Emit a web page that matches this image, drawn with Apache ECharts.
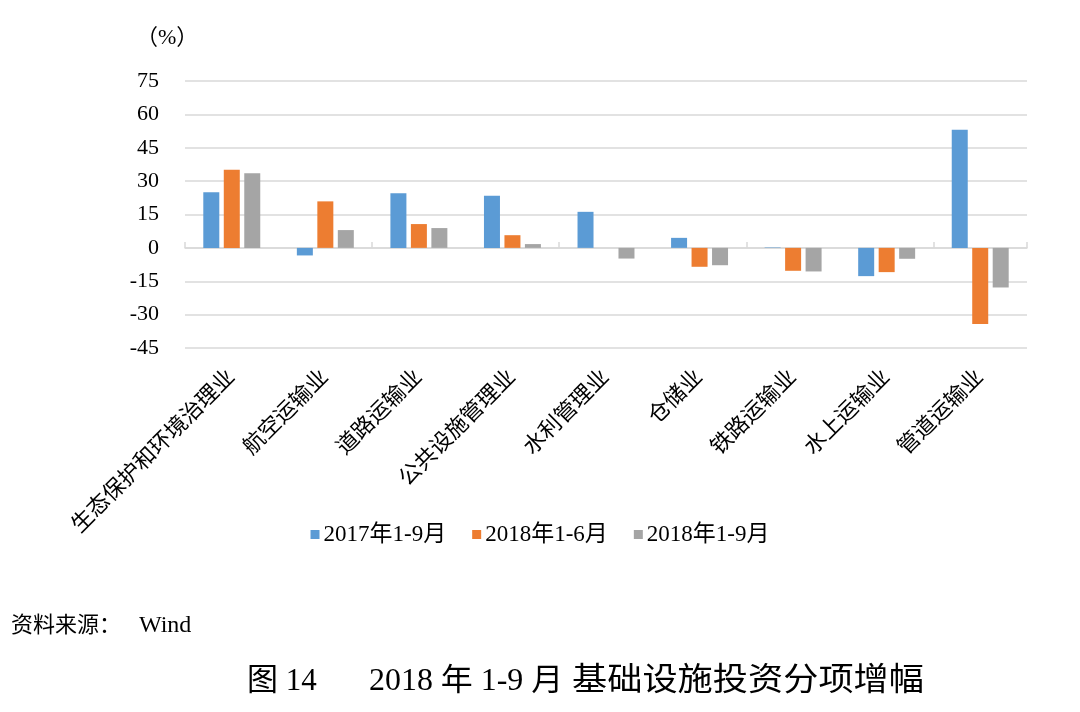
<!DOCTYPE html>
<html>
<head>
<meta charset="utf-8">
<script src="https://cdn.jsdelivr.net/npm/echarts@6/dist/echarts.min.js"></script>
<style>
html,body{margin:0;padding:0;background:#fff;}
#chart{width:1080px;height:712px;}
</style>
</head>
<body>
<div id="chart"></div>
<script>
var categories = ['生态保护和环境治理业','航空运输业','道路运输业','公共设施管理业','水利管理业','仓储业','铁路运输业','水上运输业','管道运输业'];
var s2017_1_9 = [25.0, -3.4, 24.6, 23.4, 16.2, 4.5, 0.2, -12.7, 53.1];
var s2018_1_6 = [35.1, 20.9, 10.7, 5.7, 0, -8.5, -10.3, -10.9, -34.2];
var s2018_1_9 = [33.5, 8.0, 8.9, 1.7, -4.8, -7.8, -10.6, -4.9, -17.8];
var seriesNames = ['2017年1-9月','2018年1-6月','2018年1-9月'];
var yTicks = {min: -45, max: 75, interval: 15};
var unitLabel = '（%）';
var sourceLabel = '资料来源：';
var sourceName = 'Wind';
var titleParts = ['图 14', '2018 年 1-9 月', '基础设施投资分项增幅'];

var FONT = '"Liberation Serif", "Noto Sans CJK SC", serif';
var colors = ['#5B9BD5','#ED7D31','#A5A5A5'];

var chart = echarts.init(document.getElementById('chart'));
var dataSets = [s2017_1_9, s2018_1_6, s2018_1_9];
chart.setOption({
  animation: false,
  backgroundColor: '#fff',
  color: colors,
  grid: {left: 185, right: 53, top: 81, bottom: 364},
  legend: {
    data: seriesNames,
    left: 'center',
    top: 518,
    itemWidth: 9,
    itemHeight: 9,
    itemGap: 26,
    icon: 'rect',
    textStyle: {fontFamily: FONT, fontSize: 23, color: '#000', padding: [0,0,0,-1]}
  },
  xAxis: [{
    type: 'category',
    data: categories,
    position: 'bottom',
    axisLine: {show: false, onZero: false},
    axisTick: {show: false},
    axisLabel: {rotate: 45, margin: 26, fontFamily: FONT, fontSize: 22, color: '#000', interval: 0}
  }, {
    type: 'category',
    data: categories,
    position: 'bottom',
    axisLine: {show: true, onZero: true, lineStyle: {color: '#d9d9d9', width: 1.5}},
    axisTick: {show: true, inside: true, length: 6, lineStyle: {color: '#d9d9d9', width: 1.5}},
    axisLabel: {show: false}
  }],
  yAxis: {
    type: 'value',
    min: yTicks.min, max: yTicks.max, interval: yTicks.interval,
    axisLine: {show: false},
    axisTick: {show: false},
    splitLine: {lineStyle: {color: '#d9d9d9', width: 1.5}},
    axisLabel: {margin: 26, fontFamily: FONT, fontSize: 22, color: '#000'}
  },
  series: seriesNames.map(function(n, i){
    return {name: n, type: 'bar', xAxisIndex: 0, data: dataSets[i], barWidth: 16, barGap: '28%'};
  }),
  graphic: [
    {type: 'text', left: 136, top: 27, style: {text: unitLabel, fontFamily: FONT, fontSize: 22, fill: '#000'}},
    {type: 'text', left: 11, top: 615, style: {text: sourceLabel, fontFamily: FONT, fontSize: 22, fill: '#000'}},
    {type: 'text', left: 139, top: 614, style: {text: sourceName, fontFamily: FONT, fontSize: 24, fill: '#000'}},
    {type: 'text', left: 247, top: 666, style: {text: titleParts[0], fontFamily: FONT, fontSize: 31, fill: '#000'}},
    {type: 'text', x: 369, y: 666, scaleX: 1.03, style: {text: titleParts[1], fontFamily: FONT, fontSize: 31, fill: '#000'}},
    {type: 'text', x: 572, y: 666, scaleX: 1.1, style: {text: titleParts[2], fontFamily: FONT, fontSize: 32, fill: '#000'}}
  ]
});
</script>
</body>
</html>
